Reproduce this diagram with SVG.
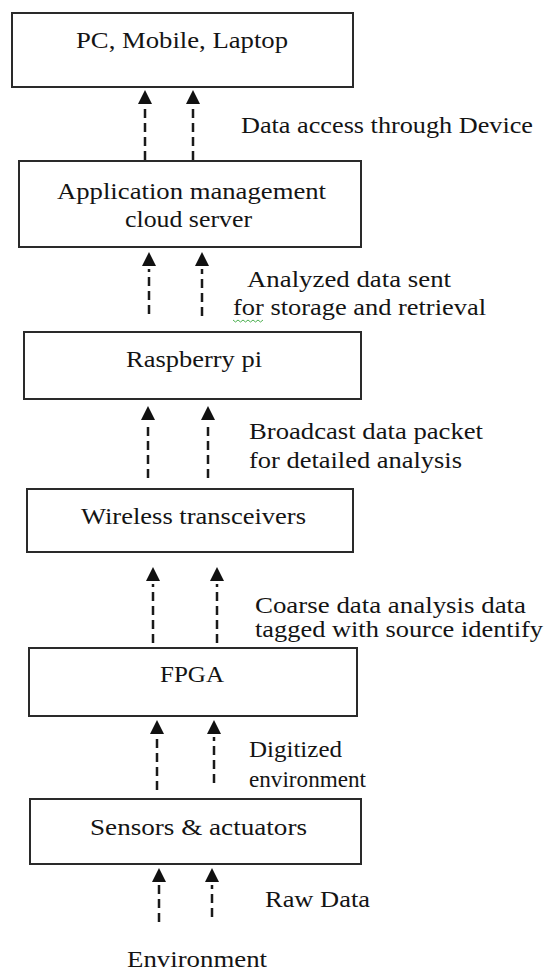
<svg xmlns="http://www.w3.org/2000/svg" width="544" height="972" viewBox="0 0 544 972">
<style>
.box{fill:#fff;stroke:#2a2a2a;stroke-width:2}
.t{font-family:"Liberation Serif","Times New Roman",serif;font-size:23px;fill:#141414}
.bt{font-size:24px}
.dl{stroke:#1a1a1a;stroke-width:2.5;stroke-dasharray:9 5;fill:none;marker-end:url(#ah)}
.sq{fill:none;stroke:#4caf50;stroke-width:1}
</style>
<defs>
<marker id="ah" viewBox="0 -7 17 14" markerWidth="17" markerHeight="14" refX="0" refY="0" orient="auto" markerUnits="userSpaceOnUse">
<path d="M3,-7 L17,0 L3,7 Z" fill="#111"/>
</marker>
</defs>
<rect width="544" height="972" fill="#fff"/>
<g id="connectors">
<line class="dl" x1="145" y1="160" x2="145" y2="107"/>
<line class="dl" x1="193" y1="160" x2="193" y2="107"/>
<line class="dl" x1="149" y1="314" x2="149" y2="269"/>
<line class="dl" x1="202" y1="316" x2="202" y2="269"/>
<line class="dl" x1="148" y1="478" x2="148" y2="423"/>
<line class="dl" x1="208" y1="478" x2="208" y2="423"/>
<line class="dl" x1="153" y1="643" x2="153" y2="584"/>
<line class="dl" x1="217" y1="643" x2="217" y2="584"/>
<line class="dl" x1="157" y1="790" x2="157" y2="737"/>
<line class="dl" x1="214" y1="783" x2="214" y2="737"/>
<line class="dl" x1="159" y1="922" x2="159" y2="885"/>
<line class="dl" x1="212" y1="917" x2="212" y2="885"/>
</g>
<g id="n-devices">
<rect class="box" x="12" y="13" width="341" height="74"/>
<text class="t bt" x="76" y="48" textLength="212" lengthAdjust="spacingAndGlyphs">PC, Mobile, Laptop</text>
</g>
<g id="n-cloud">
<rect class="box" x="19" y="161" width="342" height="86"/>
<text class="t" x="57" y="199" textLength="269" lengthAdjust="spacingAndGlyphs">Application management</text>
<text class="t" x="125" y="227" textLength="127" lengthAdjust="spacingAndGlyphs">cloud server</text>
</g>
<g id="n-rpi">
<rect class="box" x="24" y="332" width="337" height="67"/>
<text class="t" x="126" y="367" textLength="136" lengthAdjust="spacingAndGlyphs">Raspberry pi</text>
</g>
<g id="n-wireless">
<rect class="box" x="27" y="489" width="326" height="63"/>
<text class="t" x="81" y="524" textLength="225" lengthAdjust="spacingAndGlyphs">Wireless  transceivers</text>
</g>
<g id="n-fpga">
<rect class="box" x="29" y="648" width="328" height="68"/>
<text class="t" x="160" y="682" textLength="64" lengthAdjust="spacingAndGlyphs">FPGA</text>
</g>
<g id="n-sensors">
<rect class="box" x="30" y="799" width="331" height="65"/>
<text class="t" x="90" y="835" textLength="217" lengthAdjust="spacingAndGlyphs">Sensors &amp; actuators</text>
</g>
<g id="n-environment">
<text class="t" x="127" y="967" textLength="140" lengthAdjust="spacingAndGlyphs">Environment</text>
</g>
<g id="labels">
<text class="t" x="241" y="133" textLength="292" lengthAdjust="spacingAndGlyphs">Data access through Device</text>
<text class="t" x="247" y="287" textLength="204" lengthAdjust="spacingAndGlyphs">Analyzed data sent</text>
<text class="t" x="233" y="315" textLength="253" lengthAdjust="spacingAndGlyphs">for storage and retrieval</text>
<path class="sq" d="M233,320 l2.5,2 l2.5,-2 l2.5,2 l2.5,-2 l2.5,2 l2.5,-2 l2.5,2 l2.5,-2 l2.5,2 l2.5,-2 l2.5,2 l2.5,-2"/>
<text class="t" x="249" y="439" textLength="234" lengthAdjust="spacingAndGlyphs">Broadcast data packet</text>
<text class="t" x="249" y="468" textLength="213" lengthAdjust="spacingAndGlyphs">for detailed analysis</text>
<text class="t" x="255" y="613" textLength="271" lengthAdjust="spacingAndGlyphs">Coarse data analysis data</text>
<text class="t" x="255" y="637" textLength="288" lengthAdjust="spacingAndGlyphs">tagged with source identify</text>
<text class="t" x="249" y="757" textLength="93" lengthAdjust="spacingAndGlyphs">Digitized</text>
<text class="t" x="249" y="787" textLength="117" lengthAdjust="spacingAndGlyphs">environment</text>
<text class="t" x="265" y="907" textLength="105" lengthAdjust="spacingAndGlyphs">Raw Data</text>
</g>
</svg>
